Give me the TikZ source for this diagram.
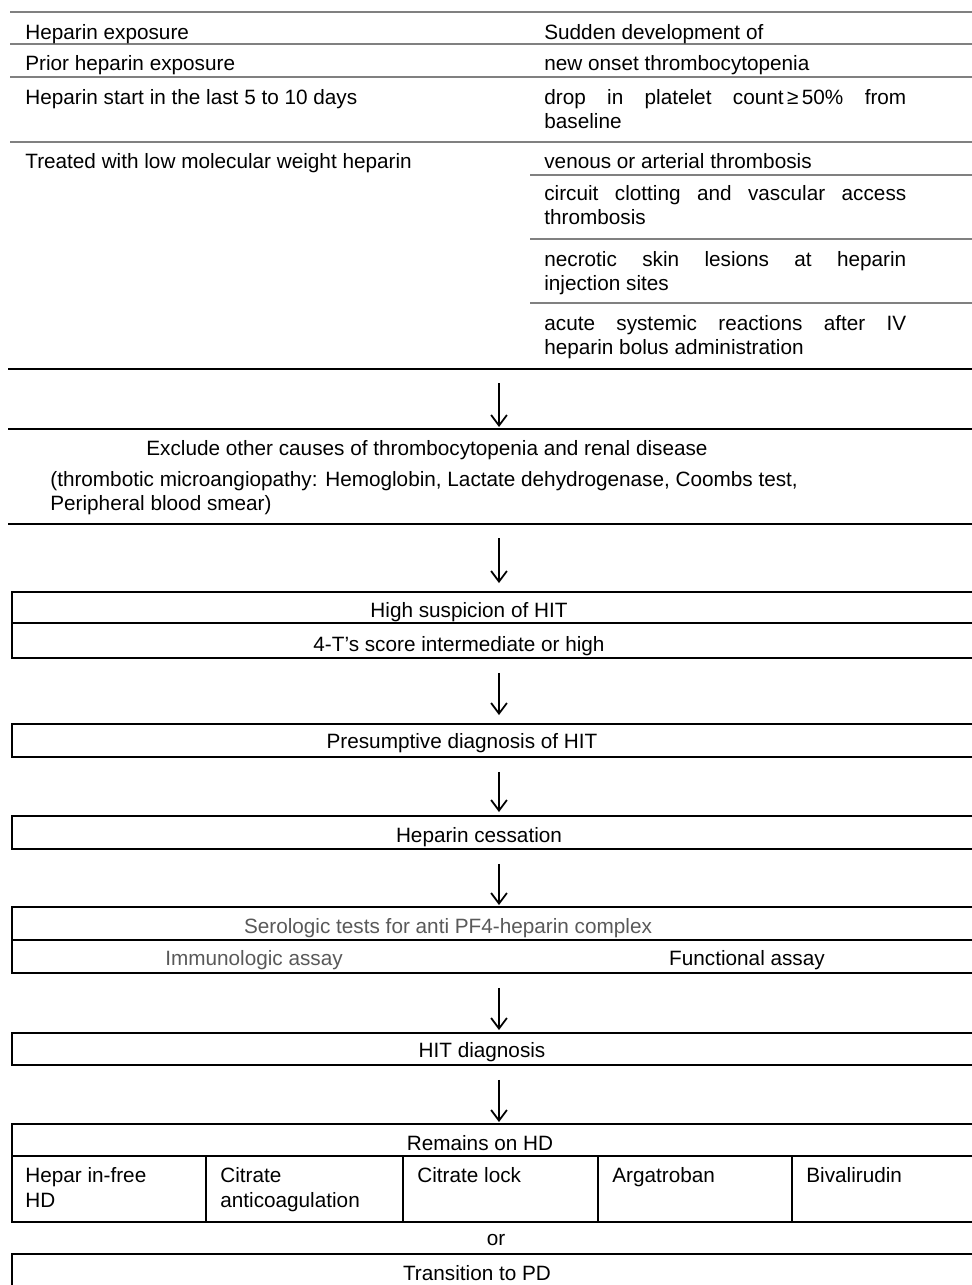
\documentclass[tikz,border=0pt]{standalone}
\usepackage{fontspec}
\setmainfont{Liberation Sans}
\usetikzlibrary{arrows.meta,positioning}

\tikzset{
  grayrule/.style={draw=black!50, line width=0.8pt},
  blackrule/.style={draw=black, line width=1pt},
  flowbox/.style={draw, line width=1pt, rectangle, inner sep=0pt, anchor=north west, minimum width=19.6cm},
  lbl/.style={inner sep=0pt, anchor=base west, font=\fontsize{11.8}{14.2}\selectfont},
  clbl/.style={lbl, anchor=base},
  faint/.style={text=black!65},
  rcol/.style={lbl, text width=7.24cm, align=justify},
  flowarrow/.style={-{Straight Barb[length=6pt,width=9pt,line width=1pt]}, line width=0.9pt, shorten <=0.28cm},
}

\begin{document}
\begin{tikzpicture}[x=0.02cm, y=-0.02cm]
  \useasboundingbox (0,0) rectangle (972,1285);
  \clip (0,0) rectangle (972,1285);

  % exposure / clinical table
  \foreach \yy in {12,44,77,142}
    \draw[grayrule] (10,\yy) -- (972,\yy);
  \foreach \yy in {175,239,303}
    \draw[grayrule] (530,\yy) -- (972,\yy);
  \draw[blackrule] (8,369) -- (972,369);

  \node[lbl] (hexp) at (25,39) {Heparin exposure};
  \node[lbl] (prior) at (25,70) {Prior heparin exposure};
  \node[lbl] (hstart) at (25,104) {Heparin start in the last 5 to 10 days};
  \node[lbl] (lmwh) at (25,168) {Treated with low molecular weight heparin};

  \node[lbl] (sudden) at (544,39) {Sudden development of};
  \node[lbl] (onset) at (544,70) {new onset thrombocytopenia};
  \node[rcol] (drop) at (544,104) {drop in platelet count\,≥\,50\% from\linebreak baseline};
  \node[lbl] (venous) at (544,168) {venous or arterial thrombosis};
  \node[rcol] (clot) at (544,200) {circuit clotting and vascular access\linebreak thrombosis};
  \node[rcol] (necro) at (544,266) {necrotic skin lesions at heparin\linebreak injection sites};
  \node[rcol] (acute) at (544,330) {acute systemic reactions after IV\linebreak heparin bolus administration};

  % exclusion
  \draw[blackrule] (8,429) -- (972,429);
  \draw[blackrule] (8,524) -- (972,524);
  \node[lbl] (excl) at (146,455) {Exclude other causes of thrombocytopenia and renal disease};
  \node[lbl] (tma) at (50,486) {(thrombotic microangiopathy: Hemoglobin, Lactate dehydrogenase, Coombs test,};
  \node[lbl] (smear) at (50,510) {Peripheral blood smear)};

  \coordinate (ax) at (499,0);
  \coordinate (tabend) at (499,369);
  \coordinate (excltop) at (499,429);
  \coordinate (exclend) at (499,524);

  % flow boxes
  \node[flowbox, minimum height=1.32cm] (hisusp) at (11,591) {};
  \draw[blackrule] (11,623) -- (972,623);
  \node[clbl] (hisusptxt) at (469,617) {High suspicion of HIT};
  \node[clbl] (score) at (459,651) {4-T’s score intermediate or high};

  \node[flowbox, minimum height=0.66cm] (presump) at (11,723) {};
  \node[clbl] (presumptxt) at (462,748) {Presumptive diagnosis of HIT};

  \node[flowbox, minimum height=0.66cm] (cess) at (11,815) {};
  \node[clbl] (cesstxt) at (479,842) {Heparin cessation};

  \node[flowbox, minimum height=1.32cm] (serol) at (11,906) {};
  \draw[blackrule] (11,940) -- (972,940);
  \node[clbl, faint] (serotxt) at (448,933) {Serologic tests for anti PF4-heparin complex};
  \node[clbl, faint] (immuno) at (254,965) {Immunologic assay};
  \node[clbl] (functional) at (747,965) {Functional assay};

  \node[flowbox, minimum height=0.64cm] (hitdx) at (11,1032) {};
  \node[clbl] (hitdxtxt) at (482,1057) {HIT diagnosis};

  \node[flowbox, minimum height=1.96cm] (remains) at (11,1123) {};
  \draw[blackrule] (11,1156) -- (972,1156);
  \foreach \xx in {206,403,598,792}
    \draw[blackrule] (\xx,1156) -- (\xx,1221);
  \node[clbl] (remainstxt) at (480,1150) {Remains on HD};
  \node[lbl] (hfree) at (25,1182) {Hepar in-free};
  \node[lbl] (hfree2) at (25,1207) {HD};
  \node[lbl] (citrate) at (220,1182) {Citrate};
  \node[lbl] (citrate2) at (220,1207) {anticoagulation};
  \node[lbl] (clock) at (417,1182) {Citrate lock};
  \node[lbl] (argat) at (612,1182) {Argatroban};
  \node[lbl] (bival) at (806,1182) {Bivalirudin};

  \node[clbl] (ortxt) at (496,1245) {or};

  \node[flowbox, minimum height=1.0cm] (pd) at (11,1253) {};
  \node[clbl] (pdtxt) at (477,1280) {Transition to PD};

  % arrows
  \draw[flowarrow, shorten >=0.04cm] (tabend) -- (excltop);
  \draw[flowarrow, shorten >=0.16cm] (exclend) -- (hisusp.north -| ax);
  \draw[flowarrow, shorten >=0.16cm] (hisusp.south -| ax) -- (presump.north -| ax);
  \draw[flowarrow, shorten >=0.06cm] (presump.south -| ax) -- (cess.north -| ax);
  \draw[flowarrow, shorten >=0.02cm] (cess.south -| ax) -- (serol.north -| ax);
  \draw[flowarrow, shorten >=0.04cm] (serol.south -| ax) -- (hitdx.north -| ax);
  \draw[flowarrow, shorten >=0.02cm] (hitdx.south -| ax) -- (remains.north -| ax);
\end{tikzpicture}
\end{document}
